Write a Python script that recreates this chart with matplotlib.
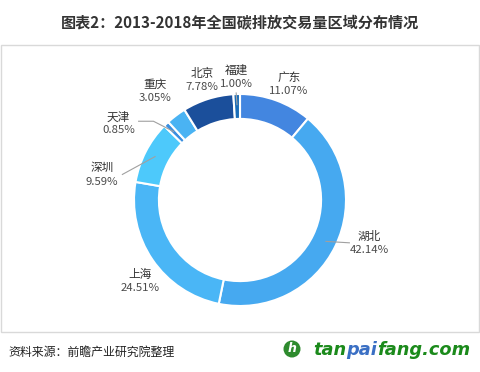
import numpy as np
import matplotlib
matplotlib.use("Agg")
import matplotlib.pyplot as plt
from matplotlib.patches import Rectangle, Circle

plt.rcParams["font.family"] = ["Noto Sans CJK SC", "DejaVu Sans"]

# DATA ----------------------------------------------------------------------- #
regions = ["广东", "湖北", "上海", "深圳", "天津", "重庆", "北京", "福建"]
shares = [11.07, 42.14, 24.51, 9.59, 0.85, 3.05, 7.78, 1.00]
colors = ["#4386e0", "#46a9f0", "#4ab6f6", "#4dc9fb", "#3a8fe0", "#4ab3f3", "#1b4f9b", "#1a6db8"]

# label placement: (radius, angle nudge in degrees), leader line kind
label_pos = [(1.18, 3), (1.29, -7), (1.22, -5), (1.32, -17),
             (1.35, -14), (1.30, -1), (1.18, 0), (1.15, 0)]
leaders = {"湖北": "right", "深圳": "left", "天津": "kink", "福建": "below"}

W, H = 481, 372
CX, CY, R = 240, 200, 106

fig = plt.figure(figsize=(W / 100, H / 100), dpi=100)
fig.patches.append(Rectangle((1 / W, 1 - 332 / H), 478 / W, 287 / H, transform=fig.transFigure,
                             fill=False, edgecolor="#d9d9d9", linewidth=1))

ax = fig.add_axes([(CX - R) / W, (H - CY - R) / H, 2 * R / W, 2 * R / H])
ax.pie(shares, colors=colors, startangle=90, counterclock=False, radius=1,
       wedgeprops=dict(width=0.235, edgecolor="white", linewidth=1.5))
ax.set_xlim(-1, 1)
ax.set_ylim(-1, 1)
ax.set_aspect("equal")
ax.axis("off")

cum = np.cumsum([0] + shares)
total = sum(shares)
for i, name in enumerate(regions):
    mid = (cum[i] + cum[i + 1]) / 2 / total * 360
    rr, nudge = label_pos[i]
    ang = np.deg2rad(mid + nudge)
    lx, ly = rr * np.sin(ang), rr * np.cos(ang)
    ax.text(lx, ly + 0.01, name, ha="center", va="bottom", fontsize=8.4, color="#333333")
    ax.text(lx, ly - 0.01, f"{shares[i]:.2f}%", ha="center", va="top", fontsize=8.2, color="#4a4a4a")
    if name in leaders:
        a0 = np.deg2rad(mid)
        x0, y0 = 0.9 * np.sin(a0), 0.9 * np.cos(a0)
        kind = leaders[name]
        if kind == "kink":
            xs = [x0, lx + 0.33, lx + 0.19]
            ys = [y0, ly + 0.03, ly + 0.03]
        elif kind == "left":
            xs = [x0, lx + 0.19]
            ys = [y0, ly + 0.01]
        elif kind == "right":
            xs = [x0, lx - 0.19]
            ys = [y0, ly + 0.01]
        else:
            xs = [x0, lx]
            ys = [y0, ly - 0.14]
        ax.plot(xs, ys, color="#a0a0a0", linewidth=0.8, clip_on=False)

fig.text(0.5, 1 - 22 / H, "图表2：2013-2018年全国碳排放交易量区域分布情况",
         ha="center", va="center", fontsize=10.9, fontweight="bold", color="#333333")

fig.text(8 / W, 1 - 352 / H, "资料来源：前瞻产业研究院整理",
         ha="left", va="center", fontsize=8.6, color="#222222")

# logo
fig.patches.append(Circle((2.92, (H - 349) / 100), 0.085, transform=fig.dpi_scale_trans,
                          facecolor="#2e8b2e", edgecolor="none"))
fig.text(292 / W, 1 - 349 / H, "h", ha="center", va="center", fontsize=9,
         fontweight="bold", style="italic", color="white", family="DejaVu Sans")

renderer = fig.canvas.get_renderer()
x = 313
for part, col in [("tan", "#1b8a1b"), ("pai", "#3a6fc4"), ("fang.com", "#1b8a1b")]:
    t = fig.text(x / W, 1 - 350 / H, part, ha="left", va="center", fontsize=12.8,
                 fontweight="bold", style="italic", color=col, family="DejaVu Sans")
    x += t.get_window_extent(renderer).width

fig.savefig("out.png", dpi=100)
